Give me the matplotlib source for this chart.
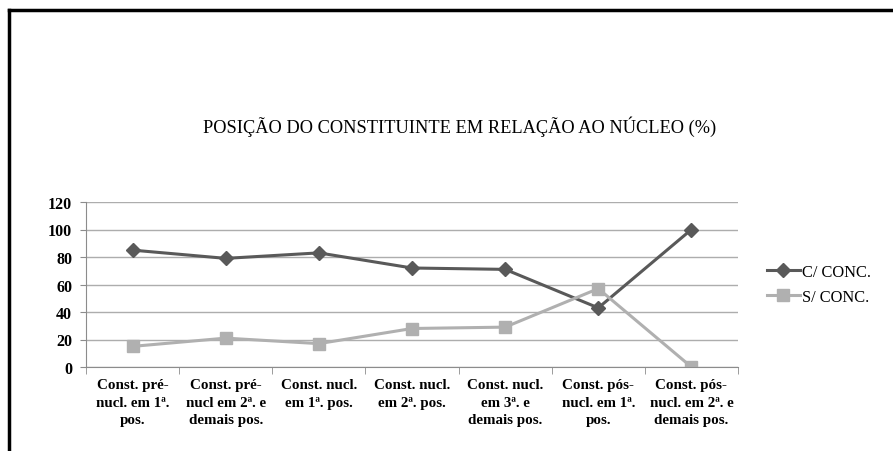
import numpy as np
import matplotlib
matplotlib.use('Agg')
import matplotlib.pyplot as plt
from matplotlib.lines import Line2D

# Datos
categorias = ['Const. pré-\nnucl. em 1ª.\npos.',
              'Const. pré-\nnucl em 2ª. e\ndemais pos.',
              'Const. nucl.\nem 1ª. pos.',
              'Const. nucl.\nem 2ª. pos.',
              'Const. nucl.\nem 3ª. e\ndemais pos.',
              'Const. pós-\nnucl. em 1ª.\npos.',
              'Const. pós-\nnucl. em 2ª. e\ndemais pos.']
c_conc = [85, 79, 83, 72, 71, 43, 100]
s_conc = [15, 21, 17, 28, 29, 57, 0]
yticks = [0, 20, 40, 60, 80, 100, 120]

plt.rcParams['font.family'] = ['Liberation Serif', 'DejaVu Serif']

fig = plt.figure(figsize=(8.93, 4.52), dpi=100)
ax = fig.add_axes([86/893, 1 - 368/452, (738 - 86)/893, (368 - 203)/452])

x = np.arange(len(categorias))
ax.plot(x, c_conc, color='#595959', lw=2.2, marker='D', ms=7, label='C/ CONC.')
ax.plot(x, s_conc, color='#b0b0b0', lw=2.2, marker='s', ms=8.5, label='S/ CONC.')

ax.set_xlim(-0.5, len(categorias) - 0.5)
ax.set_ylim(0, 120)
ax.set_yticks(yticks)
ax.set_yticklabels([str(v) for v in yticks], fontsize=11.5, fontweight='bold')
ax.set_xticks(x)
ax.set_xticklabels(categorias, fontsize=10.8, fontweight='bold', linespacing=1.45)
ax.tick_params(axis='x', length=0, pad=8)
ax.set_xticks(np.arange(-0.5, len(categorias) + 0.5, 1), minor=True)
ax.tick_params(axis='x', which='minor', length=5, color='#8c8c8c', direction='out')
ax.tick_params(axis='y', length=4, color='#8c8c8c', pad=6)

ax.grid(axis='y', color='#adadad', lw=1)
ax.set_axisbelow(True)
for s in ['top', 'right']:
    ax.spines[s].set_visible(False)
for s in ['left', 'bottom']:
    ax.spines[s].set_color('#8c8c8c')

fig.text(460/893, 1 - 127/452, 'POSIÇÃO DO CONSTITUINTE EM RELAÇÃO AO NÚCLEO (%)',
         ha='center', va='center', fontsize=13.2)

ax.legend(loc='center left', bbox_to_anchor=(1.022, 0.5), frameon=False,
          fontsize=11.8, handlelength=2.0, handletextpad=0.1, labelspacing=0.55)

# borde del recuadro (solo arriba e izquierda visibles)
fig.lines.append(Line2D([9/893, 9/893], [0, 1 - 11/452], transform=fig.transFigure,
                        color='black', lw=2.5))
fig.lines.append(Line2D([9/893, 1], [1 - 11/452, 1 - 11/452], transform=fig.transFigure,
                        color='black', lw=2.5))

fig.savefig('out.png', dpi=100)
